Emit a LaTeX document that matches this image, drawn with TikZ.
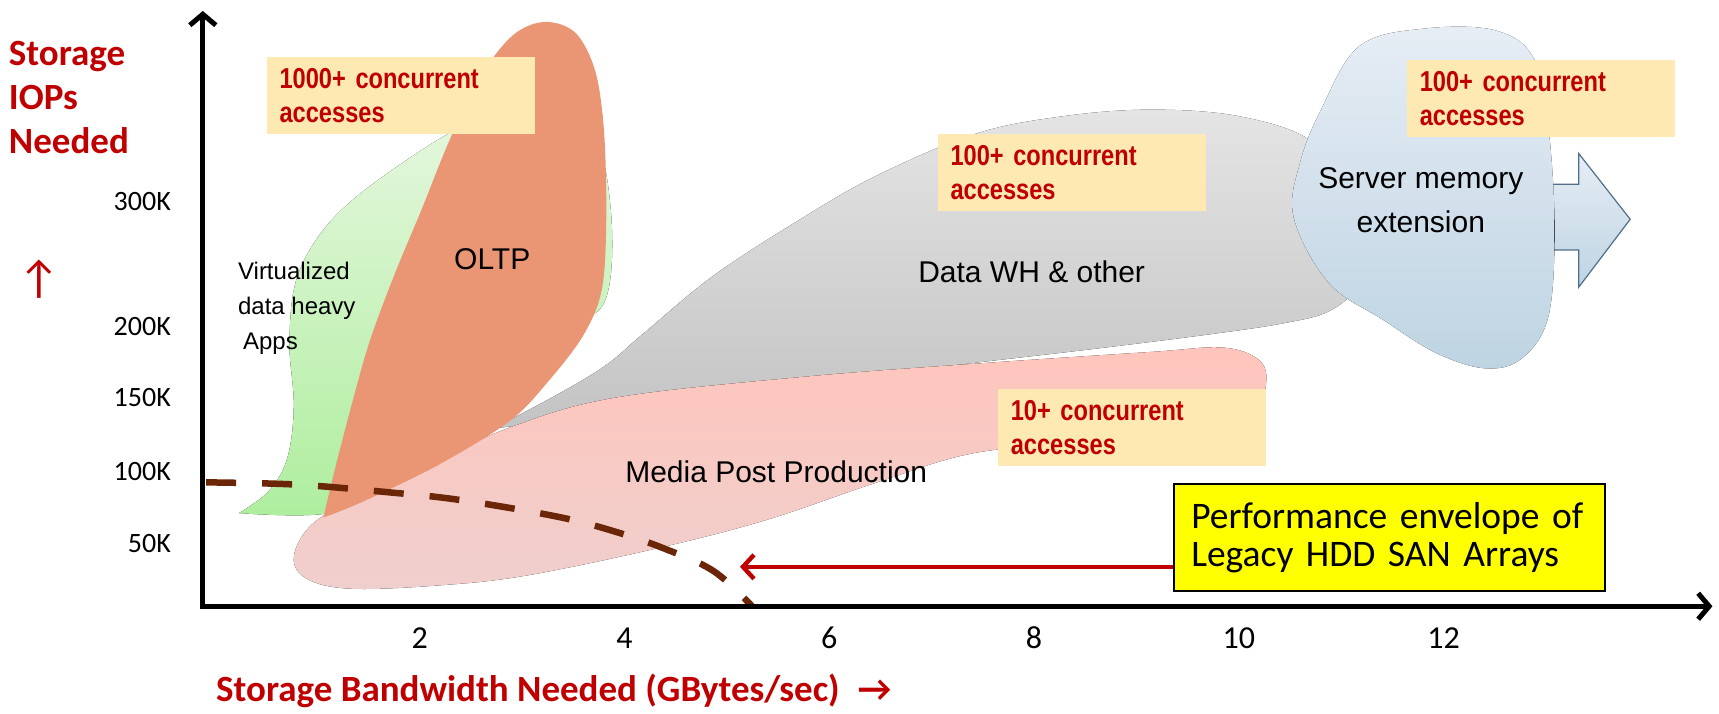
\documentclass[tikz,border=0pt]{standalone}
\usepackage{fontspec}
\usetikzlibrary{arrows.meta,positioning}
\setmainfont{Liberation Sans}
\newfontfamily\calibri{Carlito}
\newfontfamily\narrowsans[FakeStretch=0.82]{Liberation Sans}
\definecolor{DarkRed}{HTML}{C00000}
\definecolor{EnvBrown}{HTML}{6B2507}
\definecolor{NoteFill}{HTML}{FFE9B3}
\definecolor{OltpOrange}{HTML}{EA9674}
\definecolor{VirtTop}{HTML}{E6F7DF}
\definecolor{VirtBottom}{HTML}{AEEE9E}
\definecolor{WhTop}{HTML}{E4E4E4}
\definecolor{WhBottom}{HTML}{C3C3C3}
\definecolor{MediaTop}{HTML}{FFC5BC}
\definecolor{MediaBottom}{HTML}{EFCFCD}
\definecolor{MemTop}{HTML}{E6EDF5}
\definecolor{MemBottom}{HTML}{BED4E2}
\definecolor{MemEdge}{HTML}{4F6F8A}
\definecolor{HddYellow}{HTML}{FFFF00}

\begin{document}
\begin{tikzpicture}[x=1.0963pt,y=-1.0963pt,
  axis/.style={line width=5pt,{Straight Barb[length=11pt,width=26pt]}-{Straight Barb[length=11pt,width=26pt]}},
  tick/.style={font=\calibri\fontsize{28}{28}\selectfont,inner sep=0pt},
  note/.style={fill=NoteFill,text=DarkRed,font=\narrowsans\bfseries\fontsize{28.8}{34}\selectfont,align=left,text width=242pt,inner xsep=13pt,minimum height=77pt,anchor=north west},
  region/.style={font=\fontsize{30}{44}\selectfont,align=center,inner sep=0pt},
  envelope/.style={EnvBrown,line width=6.5pt,dash pattern=on 30pt off 26pt}]
\useasboundingbox (0,0) rectangle (1568,651);
% workload regions
\fill[top color=WhTop,bottom color=WhBottom] plot[smooth,tension=.6] coordinates {(440,392) (465,383) (544,339) (586,305) (650,252) (730,200) (800,160) (890,122) (970,106) (1050,100) (1130,106) (1195,128) (1218,170) (1228,225) (1235,262) (1212,284) (1170,295) (1103,305) (1000,318) (800,342) (600,372) (440,392)} -- cycle;
\fill[top color=MediaTop,bottom color=MediaBottom] plot[smooth cycle,tension=.6] coordinates {(268,508) (285,478) (330,452) (400,420) (465,390) (560,363) (730,344) (900,331) (1050,321) (1115,317) (1148,328) (1155,348) (1145,372) (1105,390) (1000,403) (890,413) (800,440) (700,474) (600,500) (480,525) (400,534) (320,537) (280,528)};
\fill[top color=VirtTop,bottom color=VirtBottom] plot[smooth,tension=.6] coordinates {(218,468) (245,448) (262,418) (268,370) (264,310) (272,250) (305,198) (365,150) (430,112) (495,98) (540,118) (557,190) (554,268) (525,300) (440,372) (350,440) (300,468) (218,468)} -- cycle;
\fill[OltpOrange] plot[smooth,tension=.55] coordinates {(295,472) (305,430) (320,372) (337,312) (360,250) (385,190) (410,128) (438,70) (468,32) (497,20) (525,30) (543,65) (551,120) (553,200) (549,264) (532,306) (500,348) (465,384) (400,424) (330,458) (295,472)} -- cycle;
\draw[MemEdge,line width=1.2pt,top color=MemTop,bottom color=MemBottom] (1400,168) -- (1440,168) -- (1440,140) -- (1487,200) -- (1440,262) -- (1440,228) -- (1400,228) -- cycle;
\fill[top color=MemTop,bottom color=MemBottom] plot[smooth cycle,tension=.6] coordinates {(1240,42) (1300,26) (1365,28) (1400,55) (1413,122) (1418,213) (1412,290) (1388,327) (1355,336) (1310,322) (1262,292) (1212,258) (1180,198) (1186,148) (1205,100)};
% region names
\node[font=\fontsize{24}{35}\selectfont,align=left,anchor=west,inner sep=0pt] (virt) at (217,281) {Virtualized\\data heavy\\\hspace{5pt}Apps};
\node[region] (oltp) at (449,236) {OLTP};
\node[region] (dwh) at (941,248) {Data WH \& other};
\node[region] (media) at (708,430) {Media Post Production};
\node[region] (mem) at (1296,183) {Server memory\\extension};
% access counts
\node[note] (n1000) at (243,52) {1000+ concurrent\\accesses};
\node[note] (n100a) at (855,122) {100+ concurrent\\accesses};
\node[note] (n100b) at (1283,55) {100+ concurrent\\accesses};
\node[note] (n10) at (910,355) {10+ concurrent\\accesses};
% legacy envelope
\draw[envelope] plot[smooth,tension=.6] coordinates {(188,440) (270,442) (354,449) (419,456) (507,471) (558,484) (605,500) (651,521) (686,553)};
% axes
\coordinate (o) at (185,553);
\coordinate (ytop) at (185,10);
\coordinate (xend) at (1562,553);
\draw[axis] (ytop) -- (o) -- (xend);
\node[font=\calibri\bfseries\fontsize{37}{44}\selectfont,text=DarkRed,align=left,anchor=west,inner sep=0pt] (ytitle) at (8,89) {Storage\\IOPs\\Needed};
\node[text=DarkRed,font=\calibri\fontsize{46}{46}\selectfont,inner sep=0pt] (yarrow) at (36,255) {↑};
\node[tick,anchor=east] (y300) at (156,184) {300K};
\node[tick,anchor=east] (y200) at (156,298) {200K};
\node[tick,anchor=east] (y150) at (156,363) {150K};
\node[tick,anchor=east] (y100) at (156,430) {100K};
\node[tick,anchor=east] (y50) at (156,496) {50K};
\foreach \v in {2,4,...,12}
  \node[tick,font=\calibri\fontsize{32}{32}\selectfont] (x\v) at ({196+93.4*\v},582) {\v};
\node[font=\calibri\bfseries\fontsize{37}{37}\selectfont,text=DarkRed,anchor=west,inner sep=0pt] (xtitle) at (197,630) {Storage Bandwidth Needed (GBytes/sec)\hspace{18pt}→};
% callout
\node[draw=black,line width=1.5pt,fill=HddYellow,anchor=north west,font=\calibri\fontsize{37.5}{38}\selectfont,align=left,text width=396pt,inner xsep=17.5pt,minimum height=107pt] (perf) at (1070,441) {Performance envelope of\\Legacy HDD SAN Arrays};
\coordinate (envpt) at (675,517);
\draw[DarkRed,line width=4.4pt,-{Straight Barb[length=11pt,width=24pt]}] (perf.west |- envpt) -- (envpt);
\end{tikzpicture}
\end{document}
